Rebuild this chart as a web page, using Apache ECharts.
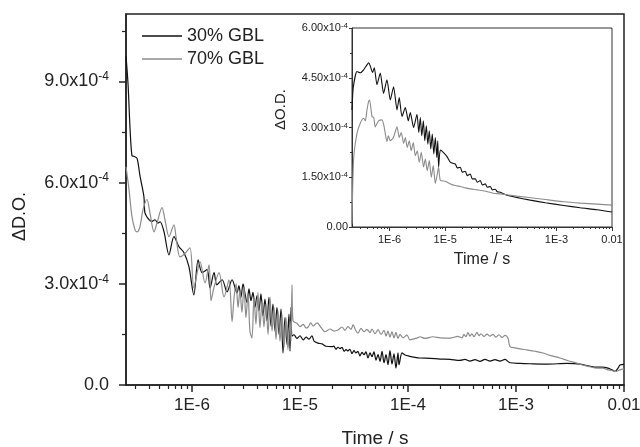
<!DOCTYPE html>
<html>
<head>
<meta charset="utf-8">
<script src="https://cdn.jsdelivr.net/npm/echarts@6/dist/echarts.min.js"></script>
<style>html,body{margin:0;padding:0;background:#fff}#c{width:640px;height:447px}</style>
</head>
<body>
<div id="c"></div>
<script>
// ---- data (time in seconds, signal in units of 1e-4) ----
const seriesNames = ['30% GBL', '70% GBL'];

const mainTime30 = [2.45e-7,2.56e-7,2.67e-7,2.78e-7,2.90e-7,3.10e-7,3.30e-7,3.59e-7,3.67e-7,4.00e-7,4.26e-7,4.54e-7,4.84e-7,5.06e-7,5.51e-7,6.12e-7,6.81e-7,7.58e-7,8.43e-7,9.38e-7,
1.04e-6,1.14e-6,1.24e-6,1.38e-6,1.47e-6,1.60e-6,1.70e-6,1.90e-6,2.11e-6,2.35e-6,2.61e-6,2.72e-6,2.84e-6,2.97e-6,3.10e-6,3.23e-6,3.37e-6,3.52e-6,3.67e-6,3.83e-6,4.00e-6,4.17e-6,4.35e-6,4.54e-6,4.74e-6,4.95e-6,5.16e-6,5.39e-6,5.62e-6,5.87e-6,6.12e-6,6.39e-6,6.67e-6,6.96e-6,7.26e-6,7.58e-6,7.91e-6,8.08e-6,8.26e-6,8.43e-6,8.80e-6,9.38e-6,
1.00e-5,1.07e-5,1.14e-5,1.21e-5,1.29e-5,1.35e-5,1.47e-5,1.60e-5,1.74e-5,1.98e-5,2.06e-5,2.15e-5,2.25e-5,2.35e-5,2.45e-5,2.56e-5,2.67e-5,2.78e-5,2.90e-5,3.03e-5,3.16e-5,3.30e-5,3.44e-5,3.59e-5,3.75e-5,3.91e-5,4.08e-5,4.26e-5,4.45e-5,4.64e-5,4.84e-5,5.06e-5,5.28e-5,5.51e-5,5.75e-5,6.00e-5,6.26e-5,6.53e-5,6.81e-5,7.11e-5,7.42e-5,7.74e-5,8.08e-5,8.26e-5,8.80e-5,9.38e-5,
1.04e-4,1.16e-4,1.29e-4,1.60e-4,1.98e-4,2.45e-4,3.03e-4,3.37e-4,3.75e-4,4.17e-4,4.64e-4,5.16e-4,5.75e-4,6.39e-4,7.11e-4,7.91e-4,8.43e-4,8.80e-4,
1.09e-3,1.35e-3,1.94e-3,2.97e-3,3.91e-3,5.16e-3,6.00e-3,6.96e-3,7.74e-3,8.26e-3,8.80e-3,9.18e-3,1.0e-2];
const main30 = [9.75,8.9,7.6,6.8,6.78,6.72,6.2,5.58,5.1,4.9,4.85,4.9,4.8,4.84,4.54,3.86,4.4,4.1,3.92,3.5,
2.67,3.71,3.33,3.42,2.88,3.33,2.97,3.12,2.76,3.12,2.73,2.95,2.6,3.0,2.7,2.45,2.85,2.5,2.75,2.3,2.65,2.2,2.7,2.05,2.55,1.9,2.6,1.75,2.4,1.6,2.3,1.5,2.25,0.95,2.0,1.2,2.1,1.0,2.3,1.45,1.49,1.38,
1.46,1.34,1.42,1.36,1.46,1.3,1.24,1.22,1.15,1.14,1.15,1.06,1.12,1.08,1.12,1.0,1.05,1.01,1.06,0.93,1.02,0.95,1.0,0.86,0.97,0.9,0.98,0.8,0.95,0.84,0.98,0.74,0.9,0.7,1.0,0.66,0.9,0.6,1.02,0.62,0.92,0.5,0.95,0.6,0.95,0.89,
0.85,0.82,0.8,0.79,0.77,0.76,0.73,0.76,0.71,0.75,0.7,0.76,0.71,0.75,0.71,0.76,0.7,0.66,
0.64,0.63,0.62,0.64,0.62,0.54,0.53,0.51,0.45,0.4,0.5,0.59,0.61];

const mainTime70 = [2.45e-7,2.61e-7,2.78e-7,2.97e-7,3.10e-7,3.30e-7,3.52e-7,3.83e-7,4.08e-7,4.45e-7,4.74e-7,5.28e-7,5.62e-7,6.12e-7,6.81e-7,7.11e-7,7.74e-7,8.61e-7,9.58e-7,
1.04e-6,1.19e-6,1.32e-6,1.44e-6,1.50e-6,1.60e-6,1.78e-6,1.98e-6,2.20e-6,2.35e-6,2.45e-6,2.56e-6,2.67e-6,2.78e-6,2.90e-6,3.03e-6,3.16e-6,3.30e-6,3.44e-6,3.59e-6,3.75e-6,3.91e-6,4.08e-6,4.26e-6,4.45e-6,4.64e-6,4.84e-6,5.06e-6,5.28e-6,5.51e-6,5.75e-6,6.00e-6,6.26e-6,6.53e-6,6.81e-6,7.11e-6,7.42e-6,7.74e-6,8.08e-6,8.26e-6,8.43e-6,8.61e-6,9.38e-6,
1.00e-5,1.07e-5,1.14e-5,1.19e-5,1.26e-5,1.32e-5,1.44e-5,1.57e-5,1.70e-5,1.90e-5,2.06e-5,2.25e-5,2.45e-5,2.61e-5,2.78e-5,2.97e-5,3.10e-5,3.30e-5,3.44e-5,3.67e-5,3.91e-5,4.17e-5,4.45e-5,4.64e-5,4.95e-5,5.28e-5,5.62e-5,6.00e-5,6.26e-5,6.53e-5,6.81e-5,7.11e-5,7.42e-5,7.74e-5,8.08e-5,8.43e-5,8.99e-5,9.79e-5,
1.04e-4,1.11e-4,1.21e-4,1.29e-4,1.44e-4,1.70e-4,1.98e-4,2.45e-4,2.90e-4,3.16e-4,3.30e-4,3.44e-4,3.59e-4,3.75e-4,3.91e-4,4.08e-4,4.35e-4,4.54e-4,4.74e-4,5.06e-4,5.39e-4,5.75e-4,6.12e-4,6.53e-4,6.96e-4,7.42e-4,7.91e-4,8.43e-4,8.80e-4,9.79e-4,
1.09e-3,1.26e-3,1.50e-3,1.78e-3,2.06e-3,2.56e-3,3.03e-3,3.67e-3,4.26e-3,4.84e-3,5.62e-3,6.39e-3,7.11e-3,7.91e-3,8.43e-3,9.18e-3,1.0e-2];
const main70 = [6.47,5.8,5.0,4.6,4.54,4.7,5.2,5.5,5.1,4.54,4.8,5.26,4.9,4.4,4.75,4.4,3.8,3.9,4.07,
2.88,3.65,3.03,3.56,2.5,2.9,3.33,2.61,3.12,1.88,2.58,3.0,2.3,2.8,2.15,2.9,2.0,2.7,1.6,1.39,2.6,1.8,2.75,1.7,2.5,1.72,2.4,1.5,2.6,1.6,2.3,1.35,2.2,1.3,2.1,1.1,2.0,1.05,1.9,1.3,2.97,1.9,1.83,
1.73,1.8,1.69,1.72,1.84,1.75,1.84,1.7,1.58,1.66,1.6,1.63,1.72,1.62,1.73,1.65,1.78,1.6,1.54,1.68,1.58,1.65,1.55,1.66,1.52,1.64,1.5,1.62,1.45,1.6,1.42,1.58,1.4,1.56,1.38,1.5,1.4,1.48,
1.34,1.36,1.39,1.43,1.38,1.43,1.4,1.39,1.44,1.4,1.5,1.43,1.55,1.45,1.52,1.43,1.56,1.46,1.52,1.44,1.51,1.45,1.5,1.42,1.49,1.41,1.47,1.39,1.14,1.1,
1.07,1.04,1.0,0.95,0.88,0.8,0.72,0.65,0.58,0.54,0.5,0.5,0.45,0.42,0.4,0.45,0.48];

const insetTime30 = [2.11e-7,2.22e-7,2.59e-7,2.97e-7,3.41e-7,3.92e-7,4.22e-7,4.50e-7,4.95e-7,5.31e-7,5.93e-7,6.80e-7,7.79e-7,8.97e-7,
1.03e-6,1.18e-6,1.36e-6,1.49e-6,1.67e-6,1.92e-6,2.17e-6,2.36e-6,2.70e-6,3.11e-6,3.35e-6,3.57e-6,3.79e-6,4.05e-6,4.30e-6,4.58e-6,4.87e-6,5.18e-6,5.50e-6,5.86e-6,6.24e-6,6.64e-6,7.07e-6,7.36e-6,7.61e-6,8.17e-6,9.24e-6,
1.08e-5,1.24e-5,1.52e-5,1.65e-5,1.87e-5,2.03e-5,2.30e-5,2.50e-5,2.83e-5,3.07e-5,3.48e-5,3.78e-5,4.28e-5,4.65e-5,5.26e-5,5.72e-5,6.48e-5,7.04e-5,7.96e-5,8.65e-5,9.79e-5,
1.29e-4,1.82e-4,3.39e-4,6.32e-4,1.35e-3,2.69e-3,5.37e-3,1.0e-2];
const inset30 = [3.53,4.2,4.69,4.65,4.74,4.89,4.95,4.85,4.66,4.8,4.29,4.64,4.03,4.44,
3.83,4.23,3.53,3.9,3.33,3.6,3.2,3.45,3.0,3.4,2.85,3.3,2.75,3.2,2.6,3.05,2.5,2.9,2.35,2.8,2.2,2.7,2.1,2.6,1.81,2.32,2.25,
2.12,1.95,1.9,1.78,1.8,1.65,1.68,1.55,1.6,1.45,1.45,1.35,1.4,1.27,1.3,1.2,1.22,1.12,1.14,1.06,1.05,
0.96,0.9,0.81,0.73,0.65,0.58,0.52,0.45];

const insetTime70 = [2.11e-7,2.25e-7,2.59e-7,2.97e-7,3.41e-7,3.66e-7,3.92e-7,4.19e-7,4.37e-7,4.83e-7,5.20e-7,5.52e-7,6.33e-7,7.29e-7,7.92e-7,8.97e-7,9.48e-7,
1.03e-6,1.17e-6,1.36e-6,1.49e-6,1.62e-6,1.79e-6,1.92e-6,2.08e-6,2.26e-6,2.45e-6,2.67e-6,2.90e-6,3.15e-6,3.42e-6,3.72e-6,4.08e-6,4.39e-6,4.76e-6,5.18e-6,5.62e-6,6.11e-6,6.64e-6,7.22e-6,7.61e-6,8.17e-6,
1.0e-5,1.24e-5,1.52e-5,1.87e-5,2.30e-5,2.83e-5,3.73e-5,5.26e-5,7.29e-5,9.79e-5,
1.96e-4,4.42e-4,7.77e-4,1.35e-3,2.69e-3,5.37e-3,1.0e-2];
const inset70 = [0.1,2.02,2.82,3.13,3.28,3.2,3.53,3.78,3.83,3.33,3.3,3.02,3.2,3.23,3.05,2.57,2.75,
2.6,2.7,3.02,2.7,2.85,2.52,2.7,2.4,2.6,2.3,2.55,2.15,2.3,1.95,2.25,1.81,2.05,1.7,2.0,1.5,1.85,1.31,1.6,1.81,1.41,
1.38,1.3,1.25,1.22,1.18,1.15,1.12,1.08,1.02,1.0,
0.93,0.86,0.81,0.76,0.72,0.69,0.66];

// ---- axis ticks / labels ----
const xDecadeTicks = [1e-6, 1e-5, 1e-4, 1e-3, 1e-2];
const xTickLabels = ['1E-6', '1E-5', '1E-4', '1E-3', '0.01'];
const mainYTicks = [0, 3, 6, 9];
const mainYLabels = ['0.0', '3.0x10', '6.0x10', '9.0x10'];
const mainYMinor = [1.5, 4.5, 7.5, 10.5];
const insetYTicks = [0, 1.5, 3, 4.5, 6];
const insetYLabels = ['0.00', '1.50x10', '3.00x10', '4.50x10', '6.00x10'];
const insetYMinor = [0.75, 2.25, 3.75, 5.25];
const expLabel = '-4';
const minorMult = [2, 3, 4, 5, 6, 7, 8, 9];
const decadeStarts = [1e-7, 1e-6, 1e-5, 1e-4, 1e-3];

// ---- build ----
const lg = v => Math.log10(v);
const pairs = (ts, vs) => ts.map((t, i) => [lg(t), vs[i]]);
const xMajor = xDecadeTicks.map(lg);
const xMinorAll = [];
decadeStarts.forEach(d => minorMult.forEach(m => xMinorAll.push(lg(d * m))));

const MAIN_XMIN = -6.611, INSET_XMIN = -6.676, XMAX = -2;
const xMinorMain = xMinorAll.filter(v => v > MAIN_XMIN && v < XMAX);
const xMinorInset = xMinorAll.filter(v => v > INSET_XMIN && v < XMAX);
const xLabelFmt = v => { const i = xMajor.findIndex(m => Math.abs(m - v) < 1e-6); return i >= 0 ? xTickLabels[i] : ''; };
const yLabelFmt = (ticks, labels) => v => {
  const i = ticks.findIndex(m => Math.abs(m - v) < 1e-6);
  if (i < 0) return '';
  return v === 0 ? '{m|' + labels[i] + '}' : '{m|' + labels[i] + '}{s|' + expLabel + '}';
};

const FONT = '"Liberation Sans", Arial, sans-serif';
const TXT = '#222';
const chart = echarts.init(document.getElementById('c'), null, {renderer: 'canvas'});

const axisLineMain = {show: true, lineStyle: {color: '#222', width: 1.5}};
const axisLineInset = {show: true, lineStyle: {color: '#333', width: 1}};

chart.setOption({
  animation: false,
  backgroundColor: '#fff',
  textStyle: {fontFamily: FONT},
  legend: {
    data: seriesNames.map(n => ({name: n, icon: 'rect'})), orient: 'vertical', left: 142, top: 27, padding: 0,
    itemWidth: 40, itemHeight: 1.5, itemGap: 5,
    textStyle: {fontSize: 18, color: TXT, fontFamily: FONT, lineHeight: 18},
    selectedMode: false
  },
  grid: [
    {left: 126, top: 14, width: 498, height: 371, show: true, borderColor: '#222', borderWidth: 1.5,
     backgroundColor: 'transparent', containLabel: false, outerBoundsMode: 'none'},
    {left: 352, top: 28, width: 260, height: 199, show: true, borderColor: '#333', borderWidth: 1,
     backgroundColor: '#fff', containLabel: false, outerBoundsMode: 'none'}
  ],
  xAxis: [
    {type: 'value', gridIndex: 0, min: MAIN_XMIN, max: XMAX, axisLine: axisLineMain,
     axisTick: {customValues: xMajor, length: 7, lineStyle: {color: '#222', width: 1.5}},
     axisLabel: {customValues: xMajor, formatter: xLabelFmt, fontSize: 17, color: TXT, margin: 12, fontFamily: FONT},
     splitLine: {show: false},
     name: 'Time / s', nameLocation: 'middle', nameGap: 44, nameTextStyle: {fontSize: 19, color: TXT, fontFamily: FONT}},
    {type: 'value', gridIndex: 0, min: MAIN_XMIN, max: XMAX, position: 'bottom', axisLine: {show: false},
     axisTick: {customValues: xMinorMain, length: 4, lineStyle: {color: '#222', width: 1.2}},
     axisLabel: {show: false}, splitLine: {show: false}},
    {type: 'value', gridIndex: 1, min: INSET_XMIN, max: XMAX, axisLine: axisLineInset,
     axisTick: {customValues: xMajor, length: 4, lineStyle: {color: '#333', width: 1}},
     axisLabel: {customValues: xMajor, formatter: xLabelFmt, fontSize: 11, color: TXT, margin: 7, fontFamily: FONT},
     splitLine: {show: false},
     name: 'Time / s', nameLocation: 'middle', nameGap: 25, nameTextStyle: {fontSize: 16, color: TXT, fontFamily: FONT}},
    {type: 'value', gridIndex: 1, min: INSET_XMIN, max: XMAX, position: 'bottom', axisLine: {show: false},
     axisTick: {customValues: xMinorInset, length: 2, lineStyle: {color: '#333', width: 1}},
     axisLabel: {show: false}, splitLine: {show: false}}
  ],
  yAxis: [
    {type: 'value', gridIndex: 0, min: 0, max: 11, axisLine: axisLineMain,
     axisTick: {customValues: mainYTicks, length: 7, lineStyle: {color: '#222', width: 1.5}},
     axisLabel: {customValues: mainYTicks, formatter: yLabelFmt(mainYTicks, mainYLabels), margin: 17, color: TXT,
       rich: {m: {fontSize: 18, color: TXT, fontFamily: FONT, lineHeight: 21},
              s: {fontSize: 12, color: TXT, fontFamily: FONT, verticalAlign: 'top', lineHeight: 12}}},
     splitLine: {show: false},
     name: 'ΔD.O.', nameLocation: 'middle', nameGap: 97, nameRotate: 90,
     nameTextStyle: {fontSize: 18, color: TXT, fontFamily: FONT, padding: [0, 34, 0, 0]}},
    {type: 'value', gridIndex: 0, min: 0, max: 11, position: 'left', axisLine: {show: false},
     axisTick: {customValues: mainYMinor, length: 4, lineStyle: {color: '#222', width: 1.2}},
     axisLabel: {show: false}, splitLine: {show: false}},
    {type: 'value', gridIndex: 1, min: 0, max: 6, axisLine: axisLineInset,
     axisTick: {customValues: insetYTicks, length: 3, lineStyle: {color: '#333', width: 1}},
     axisLabel: {customValues: insetYTicks, formatter: yLabelFmt(insetYTicks, insetYLabels), margin: 4, color: TXT,
       rich: {m: {fontSize: 11, color: TXT, fontFamily: FONT, lineHeight: 12},
              s: {fontSize: 8, color: TXT, fontFamily: FONT, verticalAlign: 'top', lineHeight: 8}}},
     splitLine: {show: false},
     name: 'ΔO.D.', nameLocation: 'middle', nameGap: 64, nameRotate: 90,
     nameTextStyle: {fontSize: 15, color: TXT, fontFamily: FONT, padding: [0, 0, 0, 36]}},
    {type: 'value', gridIndex: 1, min: 0, max: 6, position: 'left', axisLine: {show: false},
     axisTick: {customValues: insetYMinor, length: 2, lineStyle: {color: '#333', width: 1}},
     axisLabel: {show: false}, splitLine: {show: false}}
  ],
  series: [
    {name: seriesNames[0], type: 'line', xAxisIndex: 0, yAxisIndex: 0, data: pairs(mainTime30, main30),
     showSymbol: false, symbol: 'none', smooth: 0.3, lineStyle: {color: '#111', width: 1.2}, itemStyle: {color: '#111'}},
    {name: seriesNames[1], type: 'line', xAxisIndex: 0, yAxisIndex: 0, data: pairs(mainTime70, main70),
     showSymbol: false, symbol: 'none', smooth: 0.3, lineStyle: {color: '#8c8c8c', width: 1.2}, itemStyle: {color: '#8c8c8c'}},
    {name: seriesNames[0], type: 'line', xAxisIndex: 2, yAxisIndex: 2, data: pairs(insetTime30, inset30),
     showSymbol: false, symbol: 'none', smooth: 0.2, lineStyle: {color: '#111', width: 1.1}, itemStyle: {color: '#111'}},
    {name: seriesNames[1], type: 'line', xAxisIndex: 2, yAxisIndex: 2, data: pairs(insetTime70, inset70),
     showSymbol: false, symbol: 'none', smooth: 0.2, lineStyle: {color: '#8c8c8c', width: 1.1}, itemStyle: {color: '#8c8c8c'}}
  ]
});
</script>
</body>
</html>
